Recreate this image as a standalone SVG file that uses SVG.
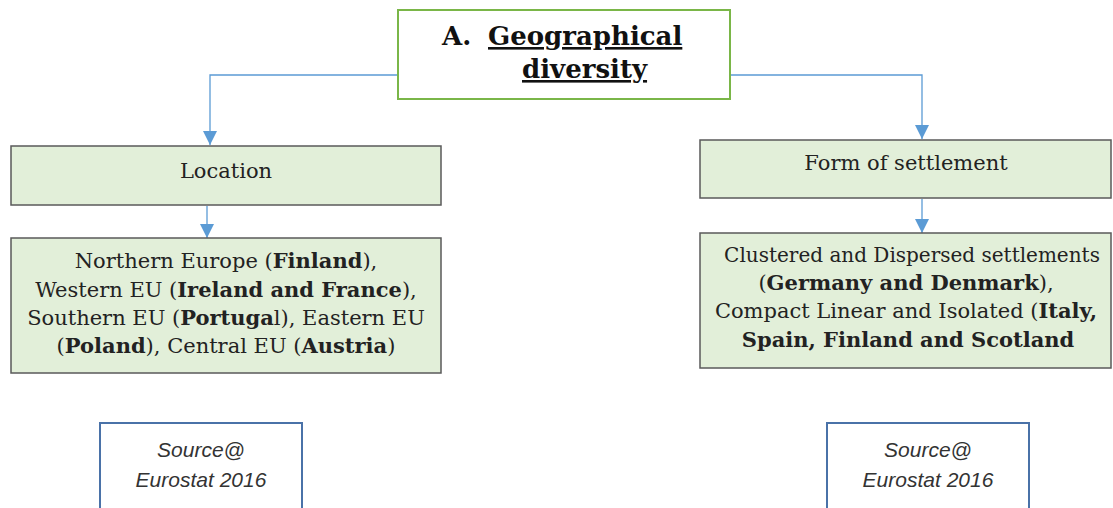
<svg xmlns="http://www.w3.org/2000/svg" width="1113" height="508" viewBox="0 0 1113 508">
<defs>
<marker id="arr" markerWidth="14" markerHeight="14" refX="14" refY="7" orient="auto" markerUnits="userSpaceOnUse" viewBox="0 0 14 14">
<path d="M0,0 L14,7 L0,14 Z" fill="#5b9bd5"/>
</marker>
<style>
.box{fill:#e2efd9;stroke:#5a5a5a;stroke-width:1.5}
.title{fill:#ffffff;stroke:#7ab648;stroke-width:2}
.src{fill:#ffffff;stroke:#4a72a8;stroke-width:2}
.t{font-family:"DejaVu Serif","Liberation Serif",serif;font-size:21px;fill:#222;text-anchor:middle}
.b{font-weight:bold}
.tt{font-family:"DejaVu Serif","Liberation Serif",serif;font-size:26px;font-weight:bold;fill:#111}
.s{font-family:"Liberation Sans","Open Sans",sans-serif;font-style:italic;font-size:21px;fill:#333;text-anchor:middle}
.c{fill:none;stroke:#5b9bd5;stroke-width:1.3}
</style>
</defs>
<g id="connectors">
<path class="c" d="M398,75 H210 V145" marker-end="url(#arr)"/>
<path class="c" d="M730,75 H922 V139" marker-end="url(#arr)"/>
<path class="c" d="M207,206 V238" marker-end="url(#arr)"/>
<path class="c" d="M922,199 V233" marker-end="url(#arr)"/>
</g>
<g id="title">
<rect class="title" x="398" y="10" width="332" height="89"/>
<text class="tt" x="442" y="45">A.</text>
<text class="tt" x="488" y="45" text-decoration="underline">Geographical</text>
<text class="tt" x="522" y="78" text-decoration="underline">diversity</text>
</g>
<g id="location">
<rect class="box" x="11" y="146" width="430" height="59"/>
<text class="t" x="226" y="178">Location</text>
</g>
<g id="location-detail">
<rect class="box" x="11" y="238" width="430" height="135"/>
<text class="t" x="226" y="268">Northern Europe (<tspan class="b">Finland</tspan>),</text>
<text class="t" x="226" y="297">Western EU (<tspan class="b">Ireland and France</tspan>),</text>
<text class="t" x="226" y="325">Southern EU (<tspan class="b">Portuga</tspan>l), Eastern EU</text>
<text class="t" x="226" y="353">(<tspan class="b">Poland</tspan>), Central EU (<tspan class="b">Austria</tspan>)</text>
</g>
<g id="settlement">
<rect class="box" x="700" y="140" width="411" height="58"/>
<text class="t" x="906" y="170">Form of settlement</text>
</g>
<g id="settlement-detail">
<rect class="box" x="700" y="233" width="411" height="135"/>
<text class="t" x="912" y="262" style="font-size:20px">Clustered and Dispersed settlements</text>
<text class="t" x="906" y="290">(<tspan class="b">Germany and Denmark</tspan>),</text>
<text class="t" x="906" y="318">Compact Linear and Isolated (<tspan class="b">Italy,</tspan></text>
<text class="t b" x="908" y="347">Spain, Finland and Scotland</text>
</g>
<g id="source-left">
<rect class="src" x="100" y="423" width="202" height="95"/>
<text class="s" x="201" y="457">Source@</text>
<text class="s" x="201" y="487">Eurostat 2016</text>
</g>
<g id="source-right">
<rect class="src" x="827" y="423" width="202" height="95"/>
<text class="s" x="928" y="457">Source@</text>
<text class="s" x="928" y="487">Eurostat 2016</text>
</g>
</svg>
